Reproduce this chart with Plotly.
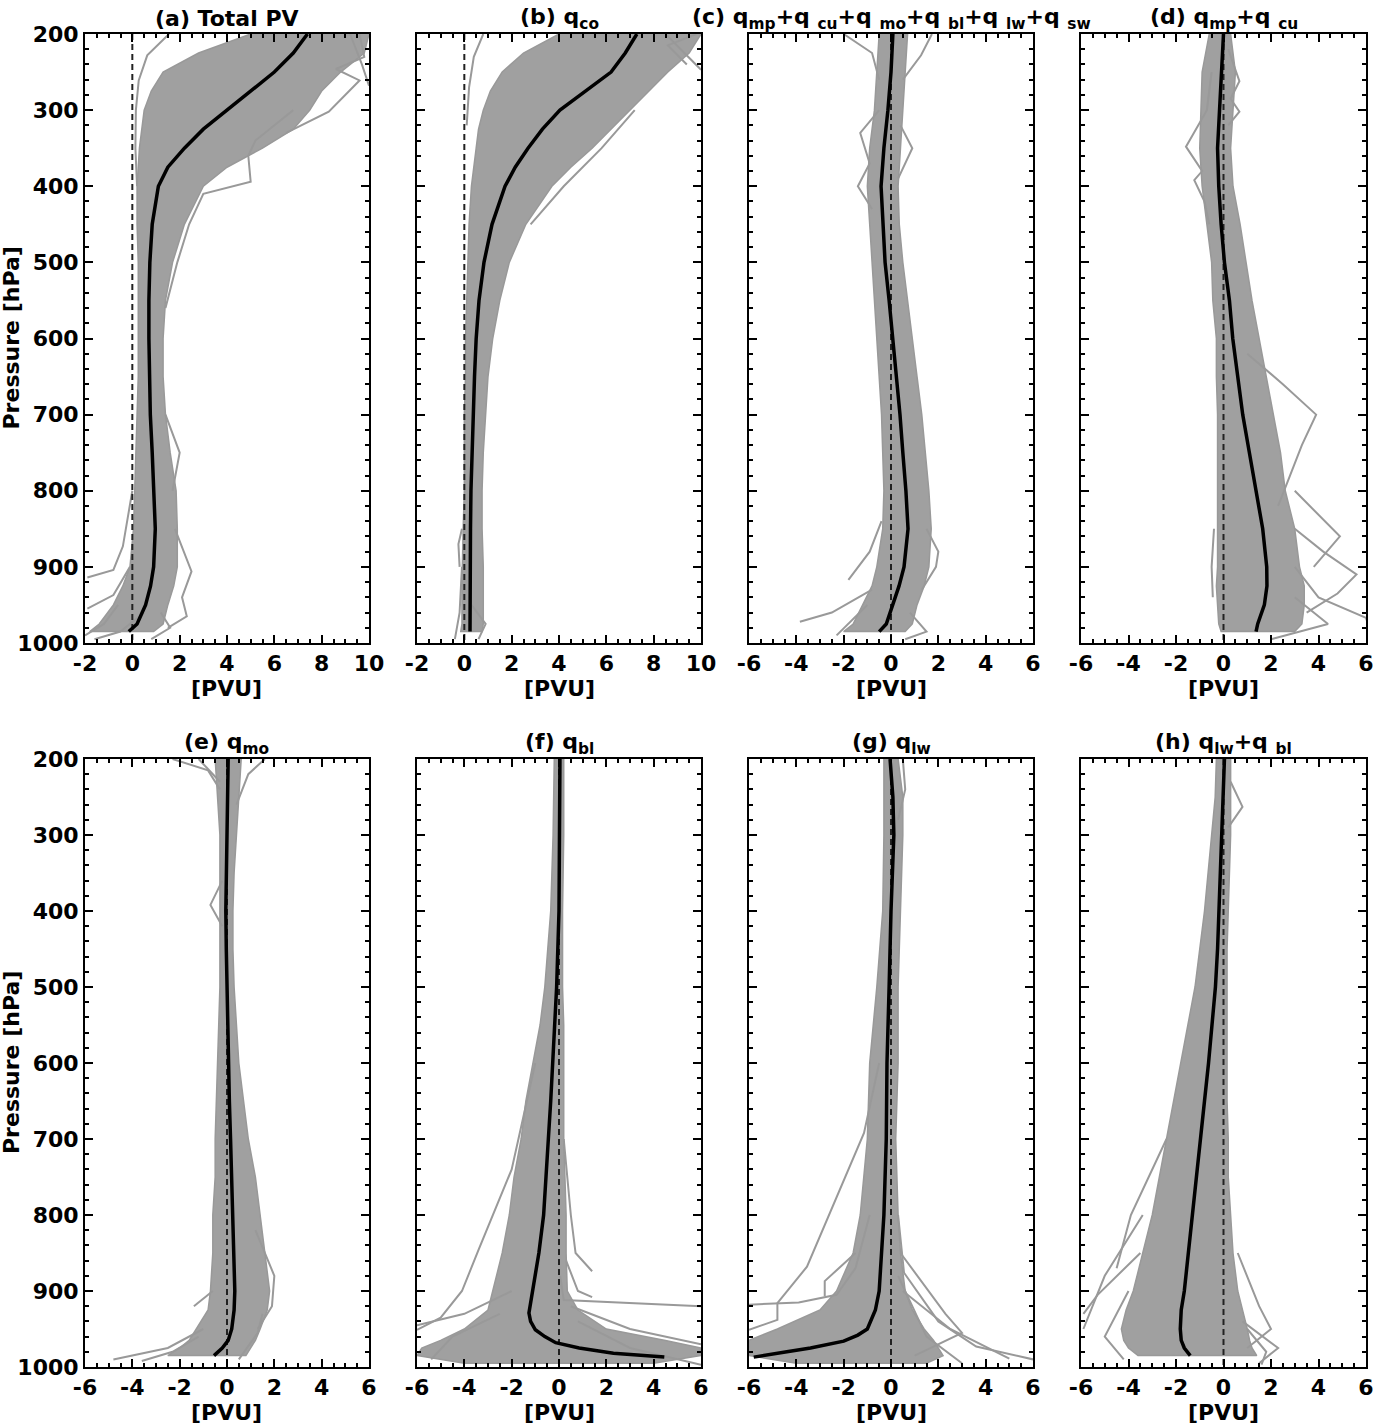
import plotly.graph_objects as go

# ---------------- data ----------------
# (a) Total PV
a_p = [200, 225, 250, 275, 300, 325, 350, 375, 400, 450, 500, 550, 600, 650, 700, 750, 800, 850, 900, 925, 950, 975, 985]
a_mean = [7.4, 6.8, 6.0, 5.0, 4.0, 3.0, 2.2, 1.5, 1.1, 0.84, 0.74, 0.7, 0.7, 0.72, 0.76, 0.84, 0.92, 0.97, 0.9, 0.77, 0.56, 0.2, -0.15]
a_lo = [5.0, 2.8, 1.3, 0.8, 0.5, 0.4, 0.3, 0.25, 0.2, 0.2, 0.25, 0.25, 0.25, 0.25, 0.2, 0.15, 0.1, 0.05, -0.1, -0.4, -0.8, -1.4, -1.8]
a_hi = [10, 9.8, 8.8, 8.0, 7.5, 6.8, 5.5, 4.0, 3.0, 2.2, 1.7, 1.4, 1.3, 1.3, 1.4, 1.6, 1.85, 1.9, 1.9, 1.75, 1.5, 1.3, 0.9]
a_out = [
    ([200, 228, 261, 300, 350, 400], [1.55, 0.63, 0.27, 0.15, 0.13, 0.2]),
    ([300, 340, 360, 394, 410, 450, 500, 560], [6.8, 5.2, 4.9, 5.0, 3.0, 2.4, 1.9, 1.4]),
    ([200, 240, 268], [9.2, 9.7, 10.0]),
    ([200, 230, 246, 261, 302, 330], [9.6, 9.8, 8.6, 9.6, 8.3, 6.5]),
    ([800, 873, 904, 914], [0.0, -0.4, -0.8, -1.9]),
    ([900, 937, 955], [-0.1, -0.8, -1.9]),
    ([950, 975, 990], [-0.6, -1.2, -2.0]),
    ([960, 985, 995], [0.5, -0.5, -1.6]),
    ([850, 906, 940, 965, 980], [1.8, 2.5, 2.1, 2.3, 1.5]),
    ([700, 750, 800], [1.4, 2.0, 1.7]),
    ([960, 980, 995], [1.2, 1.6, 0.8]),
]

# (b) q_co
b_p = a_p
b_mean = [7.29, 6.8, 6.2, 5.1, 4.04, 3.3, 2.69, 2.15, 1.72, 1.17, 0.83, 0.62, 0.5, 0.43, 0.37, 0.32, 0.28, 0.26, 0.24, 0.24, 0.24, 0.24, 0.24]
b_lo = [4.0, 2.5, 1.6, 1.1, 0.8, 0.6, 0.5, 0.4, 0.3, 0.2, 0.15, 0.1, 0.05, 0.05, 0.0, 0.0, 0.0, -0.05, -0.1, -0.1, -0.1, -0.1, -0.15]
b_hi = [10, 9.5, 8.6, 7.8, 7.0, 6.2, 5.4, 4.5, 3.7, 2.6, 1.9, 1.5, 1.2, 1.0, 0.9, 0.8, 0.75, 0.75, 0.8, 0.8, 0.8, 0.8, 0.75]
b_out = [
    ([200, 230, 270, 320], [0.8, 0.4, 0.2, 0.1]),
    ([200, 247], [8.5, 10.0]),
    ([200, 215, 240], [9.8, 8.6, 9.4]),
    ([300, 350, 400, 450], [7.2, 5.8, 4.2, 2.8]),
    ([850, 870, 900], [-0.1, -0.25, -0.2]),
    ([950, 975, 995], [0.3, 0.9, 0.6]),
    ([900, 960, 995], [-0.1, -0.2, -0.4]),
]

# (c) q_mp+q_cu+q_mo+q_bl+q_lw+q_sw
c_p = [200, 250, 300, 350, 400, 450, 500, 550, 600, 650, 700, 750, 800, 850, 900, 925, 950, 975, 985]
c_mean = [0.08, 0.0, -0.13, -0.3, -0.42, -0.35, -0.25, -0.08, 0.08, 0.22, 0.38, 0.5, 0.63, 0.72, 0.55, 0.34, 0.08, -0.2, -0.5]
c_lo = [-0.5, -0.6, -0.7, -0.9, -1.0, -0.9, -0.8, -0.7, -0.6, -0.5, -0.4, -0.35, -0.3, -0.35, -0.6, -0.8, -1.2, -1.6, -2.0]
c_hi = [0.7, 0.6, 0.5, 0.4, 0.3, 0.35, 0.5, 0.7, 0.9, 1.1, 1.3, 1.45, 1.6, 1.7, 1.6, 1.4, 1.1, 0.9, 0.6]
c_out = [
    ([200, 225, 260], [-2.0, -0.8, -0.5]),
    ([200, 210, 228, 260], [1.73, 1.56, 1.27, 0.5]),
    ([300, 330, 370, 400, 430], [-0.5, -1.3, -0.9, -1.4, -0.8]),
    ([320, 350, 390], [0.4, 0.9, 0.3]),
    ([840, 880, 917], [-0.4, -0.9, -1.8]),
    ([930, 960, 972], [-0.8, -2.5, -3.85]),
    ([950, 975, 990], [-1.0, -1.8, -2.3]),
    ([850, 880, 900, 930], [1.5, 2.0, 1.9, 1.3]),
    ([960, 985, 995], [0.8, 1.5, 0.6]),
]

# (d) q_mp+q_cu
d_p = c_p
d_mean = [0.0, -0.08, -0.15, -0.25, -0.2, -0.1, 0.04, 0.25, 0.39, 0.6, 0.81, 1.09, 1.37, 1.65, 1.82, 1.83, 1.72, 1.44, 1.37]
d_lo = [-0.6, -0.9, -0.95, -1.0, -0.9, -0.7, -0.5, -0.45, -0.3, -0.3, -0.25, -0.25, -0.25, -0.25, -0.25, -0.3, -0.25, -0.2, -0.1]
d_hi = [0.3, 0.5, 0.4, 0.3, 0.4, 0.7, 0.95, 1.2, 1.5, 1.8, 2.1, 2.4, 2.6, 3.0, 3.2, 3.4, 3.4, 3.3, 3.0]
d_out = [
    ([250, 300, 348, 380, 392, 420, 450], [-0.5, -0.7, -1.58, -0.9, -1.23, -0.8, -0.6]),
    ([220, 262, 285, 302, 320], [0.2, 0.67, 0.3, 0.67, 0.2]),
    ([620, 660, 700, 740, 780, 820], [1.0, 2.5, 3.9, 3.3, 2.8, 2.3]),
    ([850, 880, 910, 935, 960], [3.0, 4.2, 5.6, 4.8, 3.5]),
    ([900, 940, 967, 985], [3.0, 4.0, 6.0, 6.2]),
    ([800, 860, 900], [3.0, 4.9, 3.8]),
    ([850, 900, 940], [-0.4, -0.5, -0.45]),
    ([940, 975, 995], [3.0, 4.4, 2.0]),
]

# (e) q_mo
e_p = [200, 250, 300, 350, 400, 450, 500, 550, 600, 650, 700, 750, 800, 850, 900, 925, 950, 965, 975, 985]
e_mean = [0.05, 0.02, 0.0, -0.02, -0.05, -0.03, 0.0, 0.02, 0.05, 0.1, 0.15, 0.2, 0.25, 0.3, 0.33, 0.3, 0.2, 0.05, -0.2, -0.55]
e_lo = [-0.5, -0.4, -0.3, -0.3, -0.3, -0.3, -0.3, -0.35, -0.4, -0.45, -0.5, -0.5, -0.6, -0.6, -0.7, -0.8, -1.3, -1.6, -2.0, -2.5]
e_hi = [0.6, 0.5, 0.4, 0.3, 0.25, 0.25, 0.3, 0.4, 0.5, 0.7, 0.9, 1.2, 1.4, 1.6, 1.8, 1.7, 1.4, 1.2, 1.0, 0.8]
e_out = [
    ([200, 215, 240], [-2.3, -0.8, -0.3]),
    ([200, 220, 260], [1.6, 0.9, 0.4]),
    ([200, 230], [-1.2, -0.3]),
    ([360, 392, 420], [-0.2, -0.7, -0.2]),
    ([900, 920], [-0.6, -1.4]),
    ([950, 975, 990], [-1.0, -2.5, -4.8]),
    ([960, 980, 992], [-1.2, -2.3, -3.6]),
    ([820, 880, 920, 950], [1.2, 2.0, 1.9, 1.3]),
    ([930, 955, 990], [1.5, 1.3, 0.5]),
]

# (f) q_bl
f_p = [200, 300, 400, 500, 600, 650, 700, 800, 850, 900, 929, 940, 951, 960, 968, 975, 982, 987]
f_mean = [0.04, 0.03, 0.0, -0.1, -0.25, -0.35, -0.45, -0.65, -0.85, -1.1, -1.27, -1.2, -1.0, -0.6, -0.14, 0.85, 2.3, 4.45]
f_bp = [200, 300, 400, 500, 550, 600, 650, 700, 750, 800, 850, 900, 925, 950, 965, 975, 985, 995]
f_lo = [-0.2, -0.25, -0.35, -0.6, -0.8, -1.1, -1.4, -1.6, -1.9, -2.1, -2.4, -2.8, -3.0, -4.0, -5.0, -5.8, -6.0, -4.0]
f_hi = [0.2, 0.2, 0.15, 0.15, 0.2, 0.2, 0.2, 0.2, 0.25, 0.3, 0.3, 0.35, 0.8, 2.0, 4.5, 6.0, 6.0, 4.0]
f_out = [
    ([600, 740, 846, 900, 935, 951], [-1.0, -2.0, -3.4, -4.1, -5.0, -6.0]),
    ([880, 912, 920], [0.05, 0.2, 6.0]),
    ([700, 800, 850, 874], [0.2, 0.5, 0.7, 1.4]),
    ([860, 900, 908], [0.3, 0.8, 1.4]),
    ([900, 930, 945], [-2.0, -4.0, -6.0]),
    ([930, 960, 990], [-2.5, -4.5, -5.4]),
    ([940, 975, 997], [0.8, 3.0, 6.0]),
    ([920, 950, 970], [0.5, 3.0, 6.0]),
]

# (g) q_lw
g_p = [200, 250, 300, 400, 500, 600, 700, 800, 900, 925, 950, 958, 966, 970, 975, 980, 987]
g_mean = [-0.04, 0.08, 0.12, 0.0, -0.08, -0.17, -0.2, -0.3, -0.5, -0.66, -1.0, -1.4, -2.0, -2.6, -3.4, -4.4, -5.8]
g_bp = [200, 250, 300, 400, 500, 600, 700, 800, 850, 900, 925, 950, 965, 975, 985, 995]
g_lo = [-0.3, -0.3, -0.3, -0.35, -0.6, -0.9, -1.0, -1.3, -1.6, -2.3, -3.0, -4.8, -6.0, -6.0, -6.0, -4.0]
g_hi = [0.3, 0.5, 0.5, 0.4, 0.3, 0.3, 0.2, 0.3, 0.4, 0.6, 0.9, 1.4, 1.8, 2.0, 2.2, 1.5]
g_out = [
    ([800, 870, 905, 915, 918], [-0.9, -1.5, -2.3, -3.9, -6.0]),
    ([600, 692, 868, 916, 938, 951], [-0.5, -1.14, -3.55, -4.8, -4.8, -6.0]),
    ([800, 876, 940, 973, 990], [0.3, 0.55, 2.0, 3.6, 6.0]),
    ([850, 930, 955, 985], [0.4, 2.3, 3.0, 1.0]),
    ([900, 950, 989], [0.5, 2.5, 5.0]),
    ([880, 960, 995], [0.3, 1.5, 3.0]),
    ([850, 887, 907], [-1.5, -2.8, -2.8]),
    ([200, 240, 280], [0.5, 0.6, 0.3]),
]

# (h) q_lw+q_bl
h_p = e_p
h_mean = [0.04, -0.02, -0.08, -0.12, -0.17, -0.25, -0.34, -0.48, -0.63, -0.8, -0.97, -1.14, -1.3, -1.48, -1.65, -1.78, -1.82, -1.78, -1.65, -1.4]
h_lo = [-0.3, -0.35, -0.5, -0.65, -0.8, -1.0, -1.2, -1.5, -1.8, -2.1, -2.4, -2.7, -3.0, -3.4, -3.8, -4.1, -4.3, -4.2, -4.0, -3.6]
h_hi = [0.3, 0.3, 0.3, 0.25, 0.2, 0.15, 0.15, 0.15, 0.15, 0.15, 0.2, 0.2, 0.3, 0.4, 0.6, 0.8, 1.0, 1.1, 1.2, 1.4]
h_out = [
    ([800, 880, 950], [-3.4, -5.0, -5.9]),
    ([850, 905, 930], [-3.5, -5.3, -5.9]),
    ([900, 960, 990], [-4.0, -5.0, -4.2]),
    ([850, 920, 950, 975], [0.6, 1.5, 2.0, 1.0]),
    ([950, 980, 997], [1.0, 1.8, 1.6]),
    ([230, 263, 290], [0.3, 0.8, 0.2]),
    ([700, 800, 870], [-2.4, -3.9, -4.5]),
    ([940, 975, 995], [0.8, 2.3, 1.5]),
]

titles = [
    "(a) Total PV",
    "(b) q<sub>co</sub>",
    "(c) q<sub>mp</sub>+q <sub>cu</sub>+q <sub>mo</sub>+q <sub>bl</sub>+q <sub>lw</sub>+q <sub>sw</sub>",
    "(d) q<sub>mp</sub>+q <sub>cu</sub>",
    "(e) q<sub>mo</sub>",
    "(f) q<sub>bl</sub>",
    "(g) q<sub>lw</sub>",
    "(h) q<sub>lw</sub>+q <sub>bl</sub>",
]

panels = [
    (a_p, a_mean, a_p, a_lo, a_hi, a_out, (-2, 10)),
    (b_p, b_mean, b_p, b_lo, b_hi, b_out, (-2, 10)),
    (c_p, c_mean, c_p, c_lo, c_hi, c_out, (-6, 6)),
    (d_p, d_mean, d_p, d_lo, d_hi, d_out, (-6, 6)),
    (e_p, e_mean, e_p, e_lo, e_hi, e_out, (-6, 6)),
    (f_p, f_mean, f_bp, f_lo, f_hi, f_out, (-6, 6)),
    (g_p, g_mean, g_bp, g_lo, g_hi, g_out, (-6, 6)),
    (h_p, h_mean, h_p, h_lo, h_hi, h_out, (-6, 6)),
]

p_ticks = [200, 300, 400, 500, 600, 700, 800, 900, 1000]

# ---------------- layout geometry ----------------
W, H = 1376, 1425
col_px = [(85, 369), (417, 701), (749, 1033), (1081, 1366)]
row_px = [(34, 643), (759, 1367)]
GRAY = "#999999"
FONT = "DejaVu Sans"

fig = go.Figure()
layout = dict(
    width=W, height=H, margin=dict(l=0, r=0, t=0, b=0),
    plot_bgcolor="white", paper_bgcolor="white", showlegend=False,
    font=dict(family=FONT, color="black"),
)
annotations = []

for i, (mp, mean, bp, lo, hi, outs, xr) in enumerate(panels):
    r, c = divmod(i, 4)
    n = "" if i == 0 else str(i + 1)
    xa, ya = "x" + n, "y" + n

    # dense ensemble core
    fig.add_trace(go.Scatter(
        x=list(lo) + list(hi)[::-1], y=list(bp) + list(bp)[::-1],
        mode="lines", fill="toself", fillcolor="#a0a0a0",
        line=dict(color=GRAY, width=1.5), xaxis=xa, yaxis=ya, hoverinfo="skip"))
    # individual spread members
    for op, ov in outs:
        fig.add_trace(go.Scatter(x=ov, y=op, mode="lines",
                                 line=dict(color=GRAY, width=2),
                                 xaxis=xa, yaxis=ya, hoverinfo="skip"))
    # zero line
    fig.add_trace(go.Scatter(x=[0, 0], y=[200, 1000], mode="lines",
                             line=dict(color="#222222", width=2, dash="6px,4px"),
                             xaxis=xa, yaxis=ya, hoverinfo="skip"))
    # ensemble mean
    fig.add_trace(go.Scatter(x=mean, y=mp, mode="lines",
                             line=dict(color="black", width=3.5),
                             xaxis=xa, yaxis=ya))

    x0, x1 = col_px[c]
    y0, y1 = row_px[r]
    xt = list(range(xr[0], xr[1] + 1, 2))
    tick_font = dict(family=FONT, size=22, color="black", weight="bold")
    layout["xaxis" + n] = dict(
        domain=[x0 / W, x1 / W], anchor=ya, range=list(xr), automargin=False,
        tickvals=xt, ticktext=[str(v) for v in xt],
        ticks="inside", ticklen=8, tickwidth=2, tickcolor="black",
        minor=dict(ticks="inside", ticklen=4, tickwidth=1.5, dtick=0.5, tick0=0, tickcolor="black"),
        showline=True, linewidth=2, linecolor="black", mirror="ticks",
        showgrid=False, zeroline=False, tickfont=tick_font,
    )
    layout["yaxis" + n] = dict(
        domain=[1 - y1 / H, 1 - y0 / H], anchor=xa, range=[1000, 200], automargin=False,
        tickvals=p_ticks, ticktext=[str(v) for v in p_ticks], showticklabels=(c == 0),
        ticks="inside", ticklen=8, tickwidth=2, tickcolor="black",
        minor=dict(ticks="inside", ticklen=4, tickwidth=1.5, dtick=20, tick0=200, tickcolor="black"),
        showline=True, linewidth=2, linecolor="black", mirror="ticks",
        showgrid=False, zeroline=False, tickfont=tick_font,
    )

    cx = (x0 + x1) / 2 / W
    annotations.append(dict(
        text="<b>" + titles[i] + "</b>", x=cx, y=1 - (y0 - 16) / H,
        xref="paper", yref="paper", xanchor="center", yanchor="middle",
        showarrow=False, font=dict(family=FONT, size=22, color="black")))
    annotations.append(dict(
        text="<b>[PVU]</b>", x=cx, y=1 - (y1 + 45) / H,
        xref="paper", yref="paper", xanchor="center", yanchor="middle",
        showarrow=False, font=dict(family=FONT, size=22, color="black")))
    if c == 0:
        annotations.append(dict(
            text="<b>Pressure [hPa]</b>", x=11 / W, y=1 - (y0 + y1) / 2 / H,
            xref="paper", yref="paper", xanchor="center", yanchor="middle",
            textangle=-90, showarrow=False, font=dict(family=FONT, size=22, color="black")))

layout["annotations"] = annotations
fig.update_layout(**layout)
fig.write_html("out.html", config={"displayModeBar": False},
               post_script="document.body.style.margin = '0';")
